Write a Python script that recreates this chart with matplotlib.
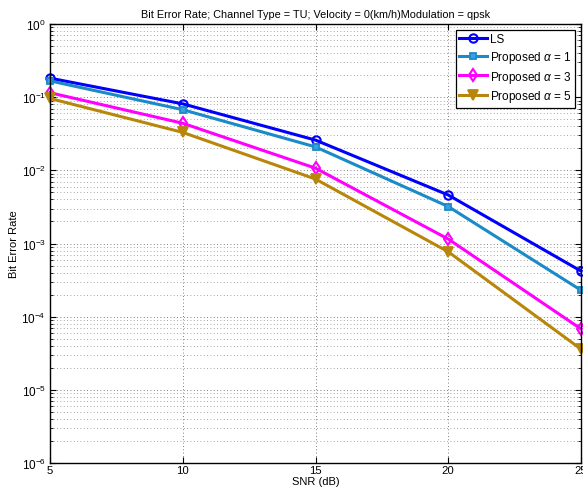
import matplotlib
matplotlib.use("Agg")
import matplotlib.pyplot as plt
from matplotlib.ticker import LogLocator, NullFormatter

plt.rcParams['font.family'] = ['Liberation Sans', 'DejaVu Sans']
plt.rcParams['mathtext.fontset'] = 'custom'
plt.rcParams['mathtext.rm'] = 'Liberation Sans'
plt.rcParams['mathtext.it'] = 'Liberation Sans:italic'

snr = [5, 10, 15, 20, 25]
ber_ls = [0.182, 0.081, 0.0259, 0.0046, 4.2e-4]
ber_a1 = [0.167, 0.0674, 0.0209, 0.0032, 2.3e-4]
ber_a3 = [0.115, 0.044, 0.0107, 0.00115, 6.8e-5]
ber_a5 = [0.096, 0.033, 0.0076, 7.7e-4, 3.6e-5]
labels = ['LS', r'Proposed $\alpha$ = 1', r'Proposed $\alpha$ = 3', r'Proposed $\alpha$ = 5']

fig = plt.figure(figsize=(5.83, 4.89), dpi=100)
ax = fig.add_axes([50/583, 1-464/489, 531/583, 439/489])

ax.semilogy(snr, ber_ls, '-o', color='#0000FF', lw=2.2, ms=6, mfc='none', mew=1.5, label=labels[0], clip_on=False)
ax.semilogy(snr, ber_a1, '-s', color='#1A8AC8', lw=2.2, ms=5, mfc='#3aa0e0', mew=1.3, label=labels[1], clip_on=False)
ax.semilogy(snr, ber_a3, '-d', color='#FF00FF', lw=2.2, ms=6, mfc='none', mew=1.5, label=labels[2], clip_on=False)
ax.semilogy(snr, ber_a5, '-v', color='#B8860B', lw=2.2, ms=7, mfc='#B8860B', mew=1.3, label=labels[3], clip_on=False)

ax.set_xlim(5, 25)
ax.set_ylim(1e-6, 1)
ax.set_xticks(snr)
ax.yaxis.set_major_locator(LogLocator(base=10, numticks=10))
ax.yaxis.set_minor_locator(LogLocator(base=10, subs=range(2, 10), numticks=20))
ax.yaxis.set_minor_formatter(NullFormatter())
ax.tick_params(which='both', direction='in', top=True, right=True, labelsize=8.5)
ax.tick_params(axis='x', pad=1.5, labelsize=8.2)
ax.tick_params(axis='y', pad=3)
ax.tick_params(which='major', length=4, width=0.8)
ax.tick_params(which='minor', length=2, width=0.6)
ax.grid(True, which='major', linestyle=(0, (1, 3)), color='#555555', lw=0.6)
ax.grid(True, which='minor', axis='y', linestyle=(0, (1, 3)), color='#888888', lw=0.6)
for s in ax.spines.values():
    s.set_linewidth(1.0)

ax.set_title('Bit Error Rate; Channel Type = TU; Velocity = 0(km/h)Modulation = qpsk', fontsize=7.8, pad=5)
ax.set_xlabel('SNR (dB)', fontsize=8, va='center')
ax.xaxis.set_label_coords(0.5, -18.5/439)
ax.set_ylabel('Bit Error Rate', fontsize=8, labelpad=2)

leg = ax.legend(loc='upper right', fontsize=8.5, frameon=True, fancybox=False,
                edgecolor='black', framealpha=1, handlelength=2.4, borderpad=0.3,
                labelspacing=0.3, handletextpad=0.2, borderaxespad=0.5)
leg.get_frame().set_linewidth(0.9)

fig.savefig('out.png', dpi=100)
